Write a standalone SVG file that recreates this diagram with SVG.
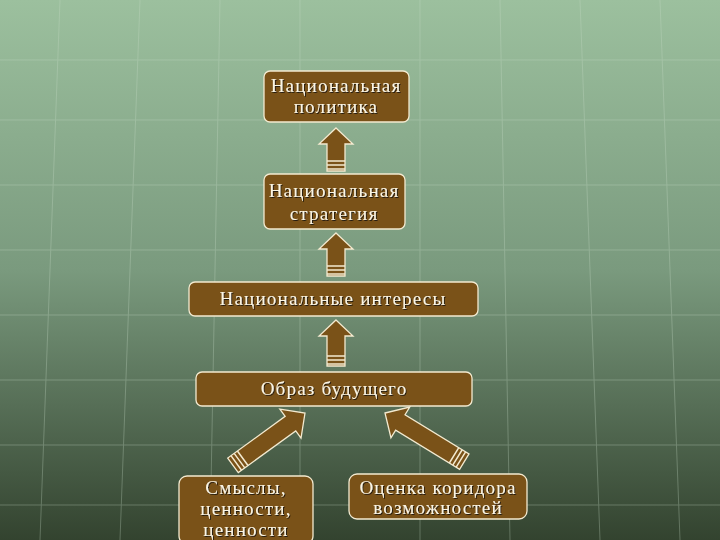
<svg xmlns="http://www.w3.org/2000/svg" width="720" height="540" viewBox="0 0 720 540">
<defs>
<linearGradient id="bg" x1="0" y1="0" x2="0" y2="1">
<stop offset="0" stop-color="#9cc09e"/>
<stop offset="0.5" stop-color="#7a9a7e"/>
<stop offset="1" stop-color="#33432f"/>
</linearGradient>
<filter id="sh"><feDropShadow dx="1" dy="1" stdDeviation="0.6" flood-color="#1a1208" flood-opacity="0.9"/></filter>
</defs>
<style>
.box{fill:#7a5218;stroke:#f3ead0;stroke-width:1.3}
.t{font-family:"Liberation Serif","DejaVu Serif",serif;font-size:19px;letter-spacing:1.2px;fill:#fbf5e4;text-anchor:middle;filter:url(#sh)}
.arr{fill:#7a5218;stroke:#f3ead0;stroke-width:1.3}
.st{stroke:#f3ead0;stroke-width:1.5}
.g{stroke:#c8dcc8;stroke-width:1;opacity:0.3;fill:none}
</style>
<rect width="720" height="540" fill="url(#bg)"/>
<g class="g">
<path d="M0,60H720M0,120H720M0,185H720M0,250H720M0,315H720M0,380H720M0,445H720M0,505H720"/>
<path d="M60,0L40,540M140,0L120,540M220,0L210,540M300,0L300,540M420,0L420,540M500,0L510,540M580,0L600,540M660,0L680,540"/>
</g>
<g id="connectors">
<g transform="translate(336,128)"><path class="arr" d="M0,0L17,16L9,16L9,43L-9,43L-9,16L-17,16Z"/><path class="st" d="M-9,33H9M-9,37H9M-9,41H9"/></g>
<g transform="translate(336,233)"><path class="arr" d="M0,0L17,16L9,16L9,43L-9,43L-9,16L-17,16Z"/><path class="st" d="M-9,33H9M-9,37H9M-9,41H9"/></g>
<g transform="translate(336,320)"><path class="arr" d="M0,0L17,16L9,16L9,46L-9,46L-9,16L-17,16Z"/><path class="st" d="M-9,36H9M-9,40H9M-9,44H9"/></g>
<g transform="translate(305,413) rotate(54)"><path class="arr" d="M0,0L18,18L9,18L9,89L-9,89L-9,18L-18,18Z"/><path class="st" d="M-9,77H9M-9,81H9M-9,85H9"/></g>
<g transform="translate(385,413) rotate(-58.5)"><path class="arr" d="M0,0L18,18L9,18L9,93L-9,93L-9,18L-18,18Z"/><path class="st" d="M-9,81H9M-9,85H9M-9,89H9"/></g>
</g>
<g id="n1"><rect class="box" x="264" y="71" width="145" height="51" rx="6"/><text class="t" x="336" y="92">Национальная</text><text class="t" x="336" y="113">политика</text></g>
<g id="n2"><rect class="box" x="264" y="174" width="141" height="55" rx="6"/><text class="t" x="334" y="197">Национальная</text><text class="t" x="334" y="220">стратегия</text></g>
<g id="n3"><rect class="box" x="189" y="282" width="289" height="34" rx="6"/><text class="t" x="333" y="305">Национальные интересы</text></g>
<g id="n4"><rect class="box" x="196" y="372" width="276" height="34" rx="6"/><text class="t" x="334" y="395">Образ будущего</text></g>
<g id="n5"><rect class="box" x="179" y="476" width="134" height="68" rx="8"/><text class="t" x="246" y="494">Смыслы,</text><text class="t" x="246" y="515">ценности,</text><text class="t" x="246" y="536">ценности</text></g>
<g id="n6"><rect class="box" x="349" y="474" width="178" height="45" rx="8"/><text class="t" x="438" y="494">Оценка коридора</text><text class="t" x="438" y="514">возможностей</text></g>
</svg>
